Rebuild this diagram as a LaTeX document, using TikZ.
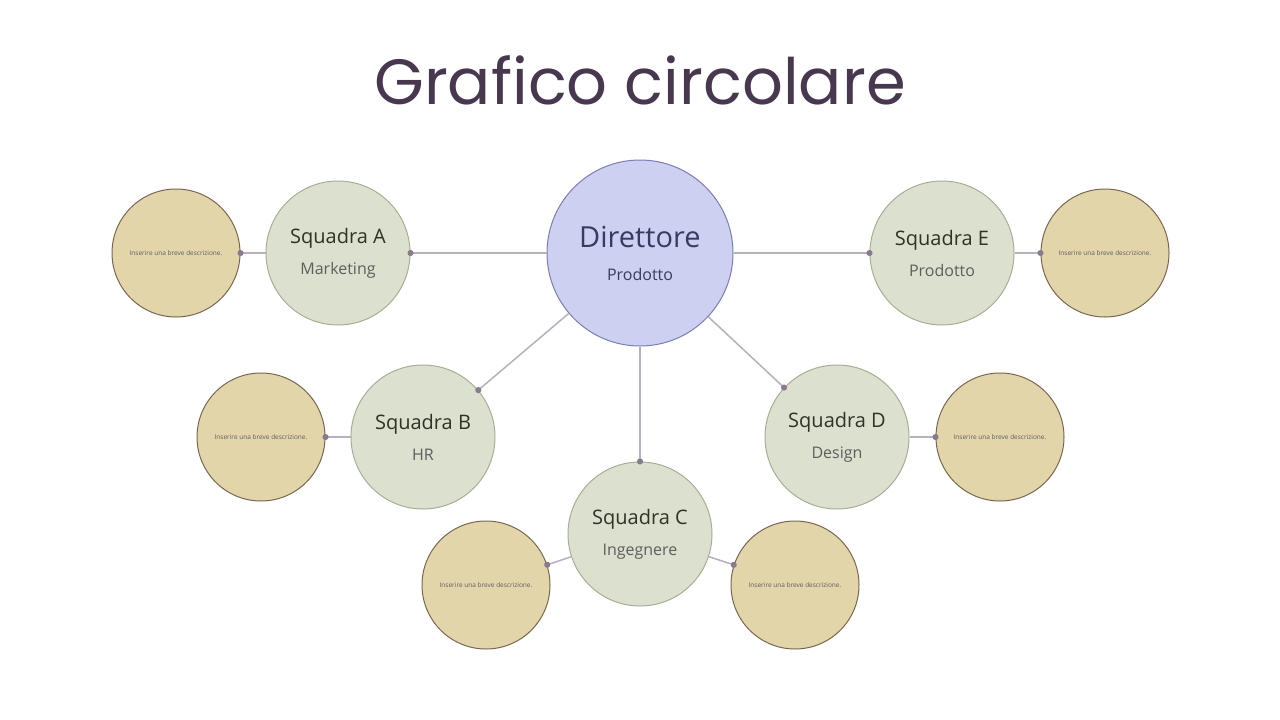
\documentclass[tikz,border=0pt]{standalone}
\usepackage{fontspec}
\setmainfont{Open Sans}
\newfontfamily\titlefont{Poppins}
\usetikzlibrary{arrows.meta}
\definecolor{dirfill}{HTML}{CDD0F0}
\definecolor{dirdraw}{HTML}{7A7FB0}
\definecolor{teamfill}{HTML}{DCE0CE}
\definecolor{teamdraw}{HTML}{A8AE96}
\definecolor{descfill}{HTML}{E2D5AA}
\definecolor{descdraw}{HTML}{7A6650}
\definecolor{linec}{HTML}{B8B0BC}
\definecolor{dotc}{HTML}{8A7A90}
\definecolor{titlec}{HTML}{47384F}
\definecolor{dirtext}{HTML}{393A63}
\definecolor{headc}{HTML}{2E3328}
\definecolor{subc}{HTML}{5E5E5E}
\tikzset{
 dirnode/.style={circle,fill=dirfill,draw=dirdraw,line width=1pt,minimum size=186pt,inner sep=0pt,align=center,font=\fontsize{16}{33}\selectfont},
 team/.style={circle,fill=teamfill,draw=teamdraw,line width=1pt,minimum size=144pt,inner sep=0pt,align=center,font=\fontsize{16}{31}\selectfont},
 desc/.style={circle,fill=descfill,draw=descdraw,line width=1pt,minimum size=128pt,inner sep=0pt,font=\fontsize{6.5}{8}\selectfont,text=subc},
 conn/.style={draw=linec,line width=1.5pt,-{Circle[length=6pt,width=6pt,fill=dotc,color=dotc,sep=-3pt]}},
}
\newcommand{\tm}[2]{{\fontsize{20}{24}\selectfont\color{headc}#1}\\{\color{subc}#2}}
\begin{document}
\begin{tikzpicture}[x=1pt,y=-1pt]
\useasboundingbox[fill=white] (0,0) rectangle (1280,720);
\node[font=\titlefont\fontsize{64}{70}\selectfont,text=titlec] (title) at (640,80) {Grafico circolare};
\node[dirnode] (dir) at (640,253) {{\fontsize{29}{34}\selectfont\color{dirtext}Direttore}\\{\color{dirtext}Prodotto}};
\node[team] (A) at (338,253) {\tm{Squadra A}{Marketing}};
\node[team] (E) at (942,253) {\tm{Squadra E}{Prodotto}};
\node[team] (B) at (423,437) {\tm{Squadra B}{HR}};
\node[team] (D) at (837,437) {\tm{Squadra D}{Design}};
\node[team] (C) at (640,534) {\tm{Squadra C}{Ingegnere}};
\node[desc] (dA) at (176,253) {Inserire una breve descrizione.};
\node[desc] (dE) at (1105,253) {Inserire una breve descrizione.};
\node[desc] (dB) at (261,437) {Inserire una breve descrizione.};
\node[desc] (dD) at (1000,437) {Inserire una breve descrizione.};
\node[desc] (dC1) at (486,585) {Inserire una breve descrizione.};
\node[desc] (dC2) at (795,585) {Inserire una breve descrizione.};
\draw[conn] (dir) -- (A);
\draw[conn] (dir) -- (E);
\draw[conn] (dir) -- (B);
\draw[conn] (dir) -- (D);
\draw[conn] (dir) -- (C);
\draw[conn] (A) -- (dA);
\draw[conn] (E) -- (dE);
\draw[conn] (B) -- (dB);
\draw[conn] (D) -- (dD);
\draw[conn] (C) -- (dC1);
\draw[conn] (C) -- (dC2);
\end{tikzpicture}
\end{document}
